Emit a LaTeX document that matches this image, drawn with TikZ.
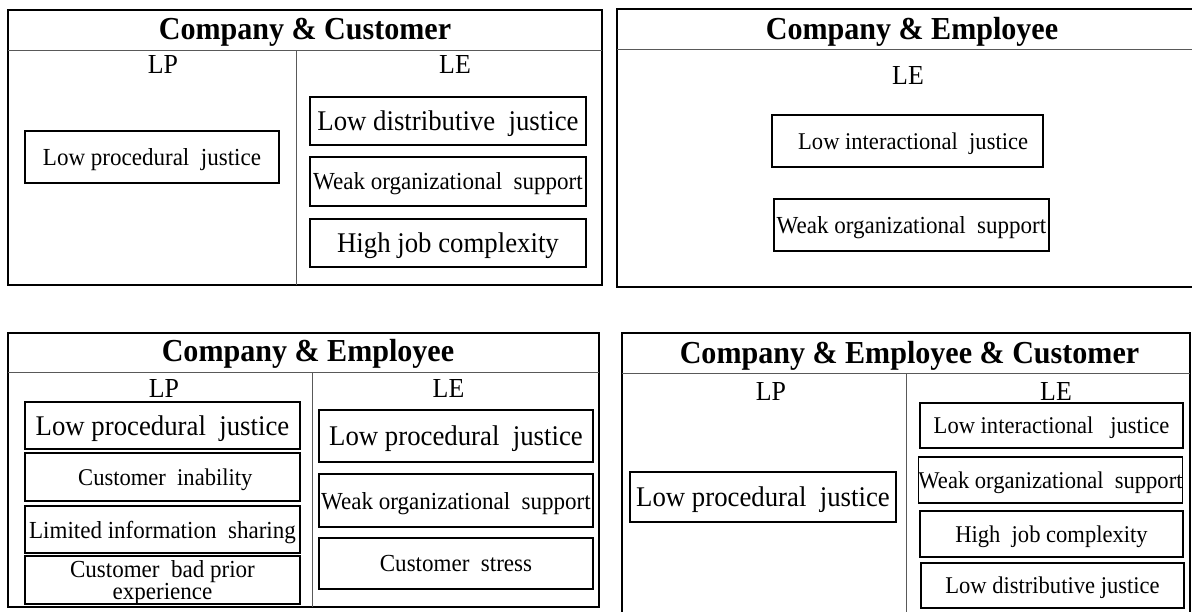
\documentclass[tikz,border=0pt]{standalone}
\usepackage{fontspec}
\setmainfont[FakeStretch=0.94]{Liberation Serif}
\begin{document}
\begin{tikzpicture}[x=1pt,y=-1pt,
  frame/.style={draw=black,line width=1.4pt},
  divider/.style={draw=black!65,line width=1pt},
  cell/.style={draw=black,line width=1.4pt,inner sep=0pt,align=center,text depth=0pt},
  ttl/.style={font=\fontsize{32}{34}\selectfont\bfseries,anchor=base,inner sep=0pt},
  col/.style={font=\fontsize{27.5}{29}\selectfont,anchor=base,inner sep=0pt},
  big/.style={font=\fontsize{28.5}{30}\selectfont},
  mid/.style={font=\fontsize{24.5}{21}\selectfont},
  sml/.style={font=\fontsize{24}{24}\selectfont}]
\useasboundingbox (0,0) rectangle (1192,612);
\fill[white] (0,0) rectangle (1192,612);
% ---------- Panel 1 ----------
\draw[frame] (8,10) rectangle (602,285);
\draw[divider] (8,51) -- (602,51);
\draw[divider] (296,51) -- (296,285);
\node[ttl] (t1) at (305,40) {Company \& Customer};
\node[col] (lp1) at (163,74) {LP};
\node[col] (le1) at (455,74) {LE};
\node[cell,mid,minimum width=254pt,minimum height=52pt] (a1) at (152,157) {Low procedural\ \ justice};
\node[cell,big,minimum width=276pt,minimum height=48pt] (a2) at (448,121) {Low distributive\ \ justice};
\node[cell,mid,minimum width=276pt,minimum height=49pt] (a3) at (448,181.5) {Weak organizational\ \ support};
\node[cell,big,minimum width=276pt,minimum height=48pt] (a4) at (448,243) {High job complexity};
% ---------- Panel 2 ----------
\draw[frame] (1200,9) -- (617,9) -- (617,287) -- (1200,287);
\draw[divider] (617,50) -- (1192,50);
\node[ttl] (t2) at (912,40) {Company \& Employee};
\node[col] (le2) at (908,85) {LE};
\node[cell,sml,minimum width=271pt,minimum height=52pt] (b1) at (907.5,141) {\ \ Low interactional\ \ justice};
\node[cell,mid,minimum width=275pt,minimum height=52pt] (b2) at (911.5,225) {Weak organizational\ \ support};
% ---------- Panel 3 ----------
\draw[frame] (8,333) rectangle (599,607);
\draw[divider] (8,373) -- (599,373);
\draw[divider] (312,373) -- (312,607);
\node[ttl] (t3) at (308,362) {Company \& Employee};
\node[col] (lp3) at (164,398) {LP};
\node[col] (le3) at (448.5,397) {LE};
\node[cell,big,minimum width=275pt,minimum height=47pt] (c1) at (162.5,425.5) {Low procedural\ \ justice};
\node[cell,sml,minimum width=275pt,minimum height=48pt] (c2) at (162.5,477) {\ Customer\ \ inability};
\node[cell,mid,minimum width=275pt,minimum height=47pt] (c3) at (162.5,529.5) {Limited information\ \ sharing};
\node[cell,mid,minimum width=275pt,minimum height=48pt] (c4) at (162.5,580) {Customer\ \ bad prior\\experience};
\node[cell,big,minimum width=274pt,minimum height=52pt] (c5) at (456,436) {Low procedural\ \ justice};
\node[cell,mid,minimum width=274pt,minimum height=53pt] (c6) at (456,500.5) {Weak organizational\ \ support};
\node[cell,mid,minimum width=274pt,minimum height=51pt] (c7) at (456,563.5) {Customer\ \ stress};
% ---------- Panel 4 ----------
\draw[frame] (622,612) -- (622,333) -- (1190,333) -- (1190,612);
\draw[divider] (622,374) -- (1190,374);
\draw[divider] (906,374) -- (906,612);
\node[ttl] (t4) at (909.5,363) {Company \& Employee \& Customer};
\node[col] (lp4) at (771,400) {LP};
\node[col] (le4) at (1056,400) {LE};
\node[cell,big,minimum width=266pt,minimum height=50pt] (d1) at (763,497) {Low procedural\ \ justice};
\node[cell,sml,minimum width=263pt,minimum height=45pt] (d2) at (1051.5,425.5) {Low interactional\ \ \ justice};
\node[cell,sml,minimum width=263pt,minimum height=46pt] (d3) at (1050.5,480) {Weak organizational\ \ support};
\node[cell,sml,minimum width=263pt,minimum height=46pt] (d4) at (1051.5,534) {High\ \ job complexity};
\node[cell,sml,minimum width=263pt,minimum height=45pt] (d5) at (1052.5,585.5) {Low distributive justice};
\end{tikzpicture}
\end{document}
